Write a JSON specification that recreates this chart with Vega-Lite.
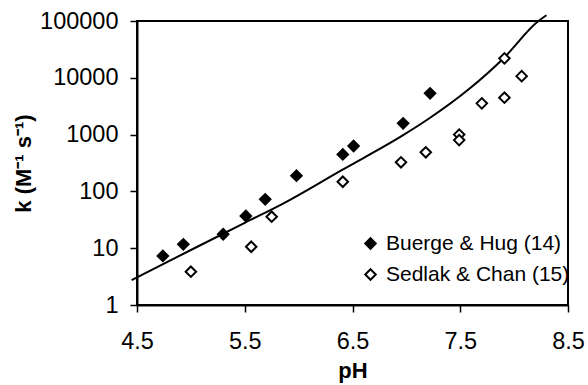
{
  "$schema": "https://vega.github.io/schema/vega-lite/v6.json",
  "autosize": {"type": "none"},
  "width": 431,
  "height": 284,
  "padding": {"left": 137, "top": 21, "right": 20, "bottom": 80},
  "background": "white",
  "config": {
    "font": "Liberation Sans",
    "view": {"stroke": "black", "strokeWidth": 2},
    "axis": {"grid": false, "domainColor": "black", "domainWidth": 2, "tickColor": "black", "tickWidth": 1.5, "tickSize": 7, "labelFont": "Liberation Sans", "labelFontSize": 23.5, "labelColor": "black", "labelFlush": false, "titleFont": "Liberation Sans", "titleFontSize": 22, "titleFontWeight": "bold", "titleColor": "black"}
  },
  "datasets": {
    "pts": [
      {"pH": 4.74, "k": 7.3, "series": "Buerge & Hug (14)"},
      {"pH": 4.93, "k": 11.7, "series": "Buerge & Hug (14)"},
      {"pH": 5.30, "k": 17.6, "series": "Buerge & Hug (14)"},
      {"pH": 5.51, "k": 36.9, "series": "Buerge & Hug (14)"},
      {"pH": 5.69, "k": 72.6, "series": "Buerge & Hug (14)"},
      {"pH": 5.98, "k": 189, "series": "Buerge & Hug (14)"},
      {"pH": 6.41, "k": 447, "series": "Buerge & Hug (14)"},
      {"pH": 6.51, "k": 630, "series": "Buerge & Hug (14)"},
      {"pH": 6.97, "k": 1580, "series": "Buerge & Hug (14)"},
      {"pH": 7.22, "k": 5330, "series": "Buerge & Hug (14)"},
      {"pH": 5.00, "k": 3.86, "series": "Sedlak & Chan (15)"},
      {"pH": 5.56, "k": 10.6, "series": "Sedlak & Chan (15)"},
      {"pH": 5.75, "k": 35.9, "series": "Sedlak & Chan (15)"},
      {"pH": 6.41, "k": 148, "series": "Sedlak & Chan (15)"},
      {"pH": 6.95, "k": 325, "series": "Sedlak & Chan (15)"},
      {"pH": 7.18, "k": 488, "series": "Sedlak & Chan (15)"},
      {"pH": 7.49, "k": 1000, "series": "Sedlak & Chan (15)"},
      {"pH": 7.49, "k": 800, "series": "Sedlak & Chan (15)"},
      {"pH": 7.70, "k": 3550, "series": "Sedlak & Chan (15)"},
      {"pH": 7.91, "k": 4470, "series": "Sedlak & Chan (15)"},
      {"pH": 7.91, "k": 22000, "series": "Sedlak & Chan (15)"},
      {"pH": 8.07, "k": 10700, "series": "Sedlak & Chan (15)"}
    ],
    "fit": [
      {"pH": 4.45, "k": 2.75},
      {"pH": 5.0, "k": 9.3},
      {"pH": 5.5, "k": 28},
      {"pH": 5.86, "k": 61.7},
      {"pH": 6.4, "k": 237},
      {"pH": 6.97, "k": 977},
      {"pH": 7.2, "k": 1860},
      {"pH": 7.59, "k": 6530},
      {"pH": 7.9, "k": 21900},
      {"pH": 8.22, "k": 97700},
      {"pH": 8.3, "k": 126000}
    ]
  },
  "layer": [
    {
      "data": {"name": "fit"},
      "mark": {"type": "line", "color": "black", "strokeWidth": 2, "clip": false, "interpolate": "monotone"},
      "encoding": {
        "x": {"field": "pH", "type": "quantitative", "scale": {"domain": [4.5, 8.5], "nice": false, "zero": false},
          "axis": {"values": [4.5, 5.5, 6.5, 7.5, 8.5], "format": ".1f", "title": "pH", "labelPadding": 17, "titlePadding": 8}},
        "y": {"field": "k", "type": "quantitative", "scale": {"type": "log", "domain": [1, 100000], "nice": false},
          "axis": {"values": [1, 10, 100, 1000, 10000, 100000], "format": "d", "title": "k (M⁻¹ s⁻¹)", "labelPadding": 12, "titlePadding": 4}}
      }
    },
    {
      "data": {"name": "pts"},
      "mark": {"type": "point", "shape": "diamond", "filled": true, "stroke": "black", "strokeWidth": 2, "size": 110, "opacity": 1},
      "encoding": {
        "x": {"field": "pH", "type": "quantitative"},
        "y": {"field": "k", "type": "quantitative"},
        "fill": {"field": "series", "type": "nominal", "scale": {"range": ["black", "white"]},
          "legend": {"title": null, "orient": "none", "legendX": 223, "legendY": 212, "symbolType": "diamond", "symbolSize": 110, "symbolStrokeColor": "black", "symbolStrokeWidth": 2, "symbolOpacity": 1, "labelFontSize": 21, "labelFont": "Liberation Sans", "labelColor": "black", "labelOffset": 5, "rowPadding": 9, "labelLimit": 300}}
      }
    }
  ]
}
